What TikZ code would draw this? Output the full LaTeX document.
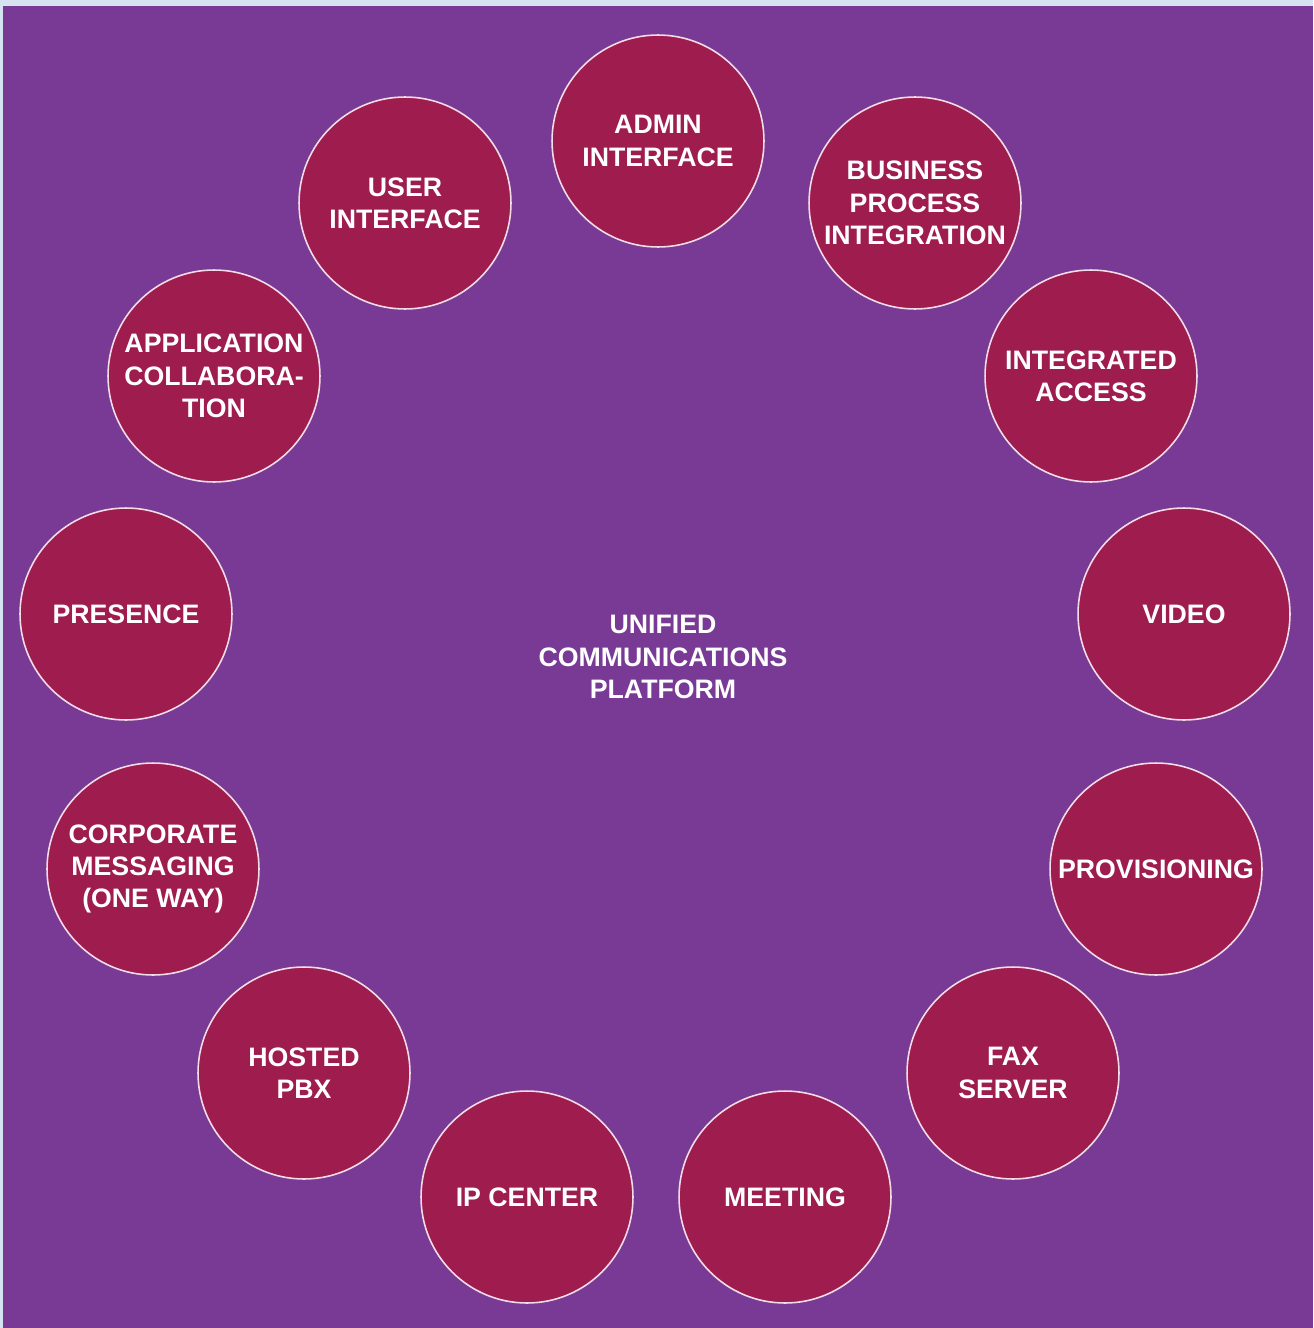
\documentclass[tikz,border=0pt]{standalone}
\usepackage{fontspec}
\setmainfont{Liberation Sans}
\usepackage{xcolor}
\usepackage{tikz}
\usetikzlibrary{positioning}
\definecolor{pagebg}{HTML}{D6E4F2}
\definecolor{platformbg}{HTML}{793A95}
\definecolor{featurefill}{HTML}{9E1C4E}
\definecolor{featureline}{HTML}{F2DCE6}
\tikzset{
	feature/.style={circle, draw=featureline, fill=featurefill, line width=0.9pt,
		minimum size=4.24cm, inner sep=0pt, align=center, text=white,
		font=\fontsize{15.2}{18.4}\selectfont\bfseries},
	centerlabel/.style={align=center, text=white,
		font=\fontsize{15.2}{18.4}\selectfont\bfseries}
}
\begin{document}
\begin{tikzpicture}[x=0.02cm, y=-0.02cm]
	%% -- Background (page and platform area)
	\fill[pagebg] (0,0) rectangle (1313,1328);
	\fill[platformbg] (3,6) rectangle (1313,1328);
	\useasboundingbox (0,0) rectangle (1313,1328);
	
	%% -- Centre label
	\node[centerlabel] (ucp) at (663,657)
	{UNIFIED\\COMMUNICATIONS\\PLATFORM};
	
	%% -- Ring of features (clockwise from top)
	\node[feature] (admin) at (658,141) {ADMIN\\INTERFACE};
	\node[feature] (bpi) at (915,203) {BUSINESS\\PROCESS\\INTEGRATION};
	\node[feature] (access) at (1091,376) {INTEGRATED\\ACCESS};
	\node[feature] (video) at (1184,614) {VIDEO};
	\node[feature] (prov) at (1156,869) {PROVISIONING};
	\node[feature] (fax) at (1013,1073) {FAX\\SERVER};
	\node[feature] (meeting) at (785,1197) {MEETING};
	\node[feature] (ipcenter) at (527,1197) {IP CENTER};
	\node[feature] (pbx) at (304,1073) {HOSTED\\PBX};
	\node[feature] (corpmsg) at (153,869) {CORPORATE\\MESSAGING\\(ONE WAY)};
	\node[feature] (presence) at (126,614) {PRESENCE};
	\node[feature] (appcollab) at (214,376) {APPLICATION\\COLLABORA-\\TION};
	\node[feature] (user) at (405,203) {USER\\INTERFACE};
	
\end{tikzpicture}
\end{document}
